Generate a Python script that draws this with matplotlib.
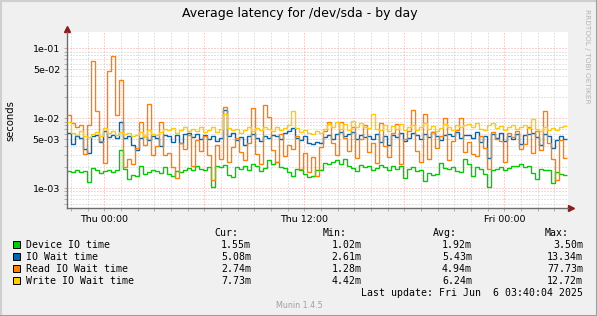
import matplotlib
matplotlib.use('Agg')
import matplotlib.pyplot as plt
from matplotlib.ticker import FixedLocator, NullFormatter
from matplotlib.patches import Rectangle
import numpy as np

# values in milliseconds, one step every 0.24 h, starting 2.24 h before Thu 00:00
start_hour = -2.24
step_hours = 0.24

device_io = [1.75, 1.7, 1.8, 1.72, 1.78, 1.25, 1.95, 1.8, 1.65, 1.75, 1.8, 1.7, 1.85, 3.5, 1.9, 1.35, 1.55, 1.5, 2.1, 1.6, 1.7, 1.85, 1.75, 1.65, 2.0,
             1.6, 1.5, 1.75, 1.7, 1.85, 1.95, 1.8, 2.05, 1.9, 1.85, 2.0, 1.05, 2.1, 2.0, 2.15, 1.55, 1.45, 2.0, 1.9, 2.1, 1.85, 2.25, 2.1, 1.75, 1.95,
             2.5, 2.2, 2.4, 2.0, 1.95, 1.7, 1.5, 1.9, 1.85, 1.6, 1.45, 1.5, 1.8, 1.85, 2.3, 2.2, 2.4, 2.5, 2.2, 2.6, 2.05, 1.95, 1.75, 2.15, 2.0,
             2.1, 1.8, 1.95, 2.15, 2.0, 1.85, 2.05, 1.9, 2.1, 1.4, 1.9, 2.0, 1.75, 1.85, 1.28, 1.65, 1.55, 1.6, 2.3, 1.95, 1.9, 2.0, 1.75, 1.7, 2.6,
             2.2, 1.5, 2.0, 1.9, 1.6, 1.04, 1.85, 1.9, 2.0, 1.8, 1.95, 2.1, 2.05, 2.2, 2.0, 2.1, 1.65, 1.35, 1.9, 1.8, 1.85, 1.2, 1.7, 1.62, 1.55]

io_wait = [6.2, 4.3, 5.6, 5.2, 3.6, 3.2, 5.5, 5.8, 4.6, 6.5, 5.4, 5.7, 5.3, 9.0, 5.2, 5.5, 4.2, 3.5, 5.3, 5.6, 4.9, 5.5, 5.2, 4.0, 5.8,
           5.6, 4.6, 5.8, 4.5, 5.9, 6.2, 5.4, 6.0, 5.1, 5.7, 5.0, 5.5, 4.8, 5.3, 13.3, 5.6, 6.2, 4.9, 5.4, 4.2, 5.6, 6.0, 5.3, 4.8, 5.5,
           5.2, 5.8, 5.5, 5.0, 6.1, 6.5, 7.2, 5.3, 4.9, 5.6, 4.5, 4.3, 4.6, 4.4, 5.4, 5.7, 5.1, 6.0, 6.3, 5.5, 5.9, 6.4, 5.0, 5.8, 5.4,
           5.6, 5.1, 6.0, 4.6, 5.5, 4.1, 5.8, 5.4, 6.2, 4.7, 5.3, 6.1, 5.7, 5.0, 5.9, 5.4, 6.3, 5.6, 4.9, 5.8, 6.0, 5.5, 6.4, 5.2, 5.7,
           5.8, 5.2, 6.3, 4.6, 5.5, 2.7, 5.9, 5.3, 6.2, 4.8, 5.6, 5.1, 6.0, 4.3, 5.7, 5.9, 6.2, 5.4, 4.1, 6.0, 5.5, 3.8, 4.9, 5.6, 5.08]

read_wait = [11.0, 8.5, 7.5, 8.0, 3.1, 8.0, 66.0, 12.8, 4.8, 2.3, 47.6, 77.7, 11.0, 35.0, 2.0, 2.6, 2.2, 3.8, 9.0, 4.2, 16.0, 3.0, 4.0, 9.0, 3.0,
             3.2, 2.0, 1.4, 4.5, 3.6, 5.8, 2.1, 4.9, 3.4, 5.6, 3.0, 1.32, 4.1, 2.6, 14.6, 2.4, 3.9, 5.2, 3.3, 2.5, 4.4, 14.0, 3.1, 2.2, 15.5,
             10.5, 3.5, 2.4, 5.9, 2.9, 4.2, 3.6, 5.5, 1.9, 3.2, 1.7, 2.8, 1.5, 3.9, 6.5, 8.8, 4.4, 3.0, 9.0, 5.2, 3.4, 7.6, 2.7, 5.0, 8.0,
             3.3, 4.5, 2.3, 8.7, 4.0, 2.8, 6.2, 8.3, 2.2, 5.1, 6.6, 13.2, 3.4, 2.4, 11.5, 2.6, 6.3, 3.8, 5.6, 10.2, 2.5, 4.8, 6.8, 10.0, 3.3,
             4.6, 3.1, 2.9, 5.5, 3.8, 1.9, 6.4, 5.1, 4.7, 2.4, 6.1, 5.4, 6.6, 3.6, 4.3, 7.5, 3.2, 6.6, 3.5, 12.8, 4.5, 2.6, 1.3, 4.9, 2.74]

write_wait = [9.0, 6.2, 5.8, 6.5, 5.6, 5.4, 5.9, 6.3, 5.5, 7.2, 6.1, 6.6, 5.7, 6.4, 5.9, 6.1, 5.5, 5.8, 6.3, 5.6, 6.9, 6.0, 5.8, 6.4, 7.0,
              6.7, 7.3, 6.2, 6.8, 7.5, 6.5, 7.0, 6.6, 7.4, 6.3, 6.9, 7.6, 6.4, 7.1, 11.5, 7.3, 6.8, 7.0, 6.2, 6.9, 7.5, 6.6, 7.2, 6.8, 7.4,
              7.0, 6.5, 7.6, 6.8, 7.2, 8.0, 12.7, 7.3, 6.4, 6.9, 6.2, 6.0, 6.5, 6.1, 7.0, 8.3, 7.5, 9.0, 7.1, 8.2, 6.8, 9.2, 7.4, 8.5, 7.6,
              7.2, 11.5, 7.0, 6.7, 8.0, 6.5, 7.7, 7.1, 8.4, 6.8, 7.4, 8.1, 6.9, 7.5, 8.6, 7.0, 7.8, 6.6, 7.3, 8.2, 7.6, 6.9, 8.0, 7.4, 7.9,
              8.3, 7.5, 8.7, 7.1, 6.8, 7.9, 8.5, 7.2, 7.7, 6.9, 7.4, 8.1, 7.0, 7.6, 8.0, 7.3, 9.8, 7.1, 6.6, 7.5, 6.9, 7.2, 6.8, 7.4, 7.73]

series_names = ['Device IO time', 'IO Wait time', 'Read IO Wait time', 'Write IO Wait time']
series_colors = ['#00CC00', '#0066B3', '#FF8000', '#FFCC00']
cur_vals = ['1.55m', '5.08m', '2.74m', '7.73m']
min_vals = ['1.02m', '2.61m', '1.28m', '4.42m']
avg_vals = ['1.92m', '5.43m', '4.94m', '6.24m']
max_vals = ['3.50m', '13.34m', '77.73m', '12.72m']

y_major = [1e-3, 5e-3, 1e-2, 5e-2, 1e-1]
y_major_labels = ['1e-03', '5e-03', '1e-02', '5e-02', '1e-01']
x_major = [0, 6, 12, 18, 24]
x_major_labels = ['Thu 00:00', '', 'Thu 12:00', '', 'Fri 00:00']

W, H = 597, 316


def fx(x):
    return x / W


def fy(y):
    return 1 - y / H


fig = plt.figure(figsize=(W / 100, H / 100), dpi=100, facecolor='#F0F0F0')
ax = fig.add_axes([fx(67), fy(208), (568 - 67) / W, (208 - 32) / H])
ax.set_facecolor('white')

edges = start_hour + step_hours * np.arange(len(device_io) + 1)
all_series = [device_io, io_wait, read_wait, write_wait]
for vals, color in zip(all_series, series_colors):
    ax.stairs(np.array(vals) * 1e-3, edges, baseline=None, color=color, lw=1.0, zorder=3)

ax.set_yscale('log')
ax.set_ylim(5.23e-4, 0.171)
ax.set_xlim(-2.238, 27.82)

# grid: red dotted on major, grey dotted on minor
y_minor = []
for dec in [1e-4, 1e-3, 1e-2, 1e-1]:
    for m in [2, 3, 4, 6, 7, 8, 9]:
        y_minor.append(m * dec)
ax.yaxis.set_major_locator(FixedLocator(y_major))
ax.yaxis.set_minor_locator(FixedLocator(y_minor))
ax.set_yticklabels(y_major_labels)
ax.yaxis.set_minor_formatter(NullFormatter())
ax.xaxis.set_major_locator(FixedLocator(x_major))
ax.xaxis.set_minor_locator(FixedLocator([h for h in range(-2, 28) if h % 6 != 0]))
ax.set_xticklabels(x_major_labels)

ax.grid(True, which='major', color='#F4A0A0', linestyle=(0, (1, 2)), lw=0.72, zorder=1)
ax.grid(True, which='minor', color='#C8C8C8', linestyle=(0, (1, 2)), lw=0.72, zorder=1)
ax.tick_params(which='both', direction='out', length=2.5, width=0.7, color='#B0B0B0',
               labelsize=6.8, pad=2.5, labelcolor='black')

for side in ['top', 'right']:
    ax.spines[side].set_visible(False)
for side in ['left', 'bottom']:
    ax.spines[side].set_color('#6E6E6E')
    ax.spines[side].set_linewidth(1.0)

# axis arrows
ax.plot([0], [1.0 + 3 / 176], marker='^', ms=4.5, color='#8B1C1C', transform=ax.transAxes, clip_on=False)
ax.plot([1.0 + 3 / 501], [0], marker='>', ms=4.5, color='#8B1C1C', transform=ax.transAxes, clip_on=False)

fig.text(fx(300), fy(13), 'Average latency for /dev/sda - by day', ha='center', va='center', fontsize=9)
fig.text(fx(10), fy(121), 'seconds', ha='center', va='center', rotation=90, fontsize=7.2)
fig.text(fx(587), fy(56), 'RRDTOOL / TOBI OETIKER', ha='center', va='center', rotation=270,
         fontsize=5.3, color='#B4B4B4')

# legend block
mono = 'DejaVu Sans Mono'
fs = 7.15
for header, xr in zip(['Cur:', 'Min:', 'Avg:', 'Max:'], [238, 347, 457, 569]):
    fig.text(fx(xr), fy(233), header, ha='right', va='center', family=mono, fontsize=fs)

row_y = [244.7, 256.7, 268.7, 280.7]
for k in range(4):
    fig.patches.append(Rectangle((fx(13), fy(row_y[k] + 3.5)), 7 / W, 7 / H, transform=fig.transFigure,
                                 facecolor=series_colors[k], edgecolor='black', lw=0.7))
    fig.text(fx(26.5), fy(row_y[k]), series_names[k], ha='left', va='center', family=mono, fontsize=fs)
    for col, xr in zip([cur_vals, min_vals, avg_vals, max_vals], [251, 361.6, 472, 583]):
        fig.text(fx(xr), fy(row_y[k]), col[k], ha='right', va='center', family=mono, fontsize=fs)

fig.text(fx(583), fy(292.5), 'Last update: Fri Jun  6 03:40:04 2025', ha='right', va='center',
         family=mono, fontsize=fs)
fig.text(fx(299), fy(305.5), 'Munin 1.4.5', ha='center', va='center', fontsize=5.8, color='#A0A0A0')

# frame
fig.add_artist(plt.Line2D([0, 1], [fy(0.5), fy(0.5)], transform=fig.transFigure, color='#CFCFCF', lw=1.5))
fig.add_artist(plt.Line2D([fx(0.5), fx(0.5)], [0, 1], transform=fig.transFigure, color='#CFCFCF', lw=1.5))
fig.add_artist(plt.Line2D([0, 1], [fy(315.5), fy(315.5)], transform=fig.transFigure, color='#9E9E9E', lw=1.5))
fig.add_artist(plt.Line2D([fx(596.5), fx(596.5)], [0, 1], transform=fig.transFigure, color='#9E9E9E', lw=1.5))

fig.savefig('out.png', dpi=100, facecolor=fig.get_facecolor())
